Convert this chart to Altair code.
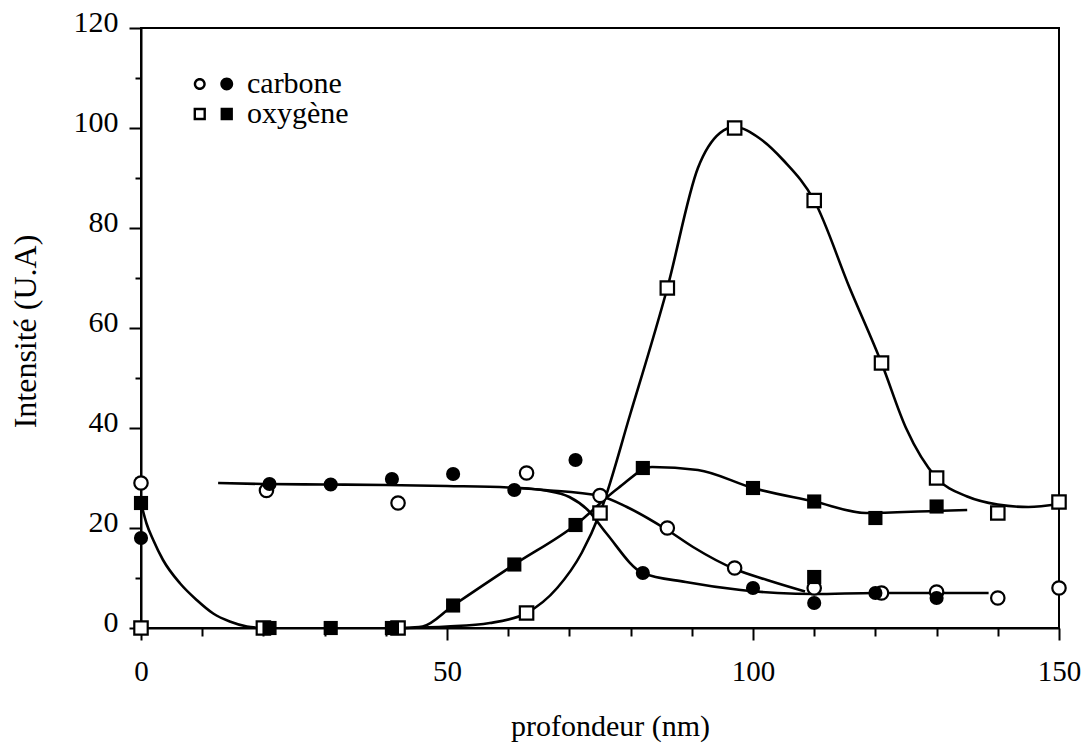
import altair as alt
import pandas as pd

# ---- measured points ----
c_open_x = [0, 20.5, 42, 63, 75, 86, 97, 110, 121, 130, 140, 150]
c_open_y = [29, 27.5, 25, 31, 26.5, 20, 12, 8, 7, 7.2, 6, 8]
c_fill_x = [0, 21, 31, 41, 51, 61, 71, 82, 100, 110, 120, 130]
c_fill_y = [18, 28.8, 28.7, 29.8, 30.8, 27.6, 33.6, 11, 8, 5, 7, 6]
o_open_x = [0, 20, 42, 63, 75, 86, 97, 110, 121, 130, 140, 150]
o_open_y = [0, 0, 0, 3, 23, 68, 100, 85.5, 53, 30, 23, 25.2]
o_fill_x = [0, 21, 31, 41, 51, 61, 71, 82, 100, 110, 110, 120, 130]
o_fill_y = [25, 0, 0, 0, 4.5, 12.7, 20.6, 32, 28, 25.3, 10.2, 22, 24.3]

# ---- hand-drawn curves ----
curve_surface_x = [0.2, 0.9, 2, 3.6, 6.4, 9.1, 11.8, 14.5, 17.3, 19.5]
curve_surface_y = [24, 20.9, 17.6, 13.6, 8.9, 5.6, 2.9, 1.3, 0.3, 0]
curve_ofill_x = [43, 46, 51, 61, 71, 78, 83.5, 91, 100, 110, 118.5, 129.5, 135]
curve_ofill_y = [0, 0.3, 4.5, 12.7, 20.6, 28, 32.2, 31.6, 28, 25.3, 23, 23.4, 23.6]
curve_oopen_x = [43, 50, 57, 63, 68, 72, 75, 80, 86, 91, 94.6, 97, 101, 105, 110, 115.8, 121, 125, 130, 135, 140, 145, 150]
curve_oopen_y = [0, 0.3, 1, 3, 8, 15, 23, 43, 68, 92, 99, 100.2, 98, 93.5, 85.5, 68, 53, 40, 30, 26.3, 24.7, 24.2, 24.8]
curve_copen_x = [12.6, 20, 30, 40, 50, 60, 66, 75, 79.4, 86, 90.2, 97, 102.3, 108.5]
curve_copen_y = [29, 28.8, 28.7, 28.6, 28.4, 28.1, 27.6, 26.4, 24.2, 19.6, 16.2, 11.8, 9.6, 7.3]
curve_cfill_x = [62, 66, 70, 73, 76, 82, 89, 98, 104, 110, 120, 130, 138.5]
curve_cfill_y = [28, 27.5, 26.2, 23.6, 19, 11, 9.2, 7.6, 7, 6.8, 7, 7, 7]

legend_labels = ["carbone", "oxygène"]
x_title = "profondeur (nm)"
y_title = "Intensité (U.A)"

FONT = "Liberation Serif"

# ---- legend symbol shapes (open + filled pair, as SVG paths) ----
def circle(cx, r, sweep):
    return (f"M{cx - r},0A{r},{r},0,1,{sweep},{cx + r},0"
            f"A{r},{r},0,1,{sweep},{cx - r},0Z")

def square_cw(cx, h):
    return f"M{cx - h},{-h}H{cx + h}V{h}H{cx - h}Z"

def square_ccw(cx, h):
    return f"M{cx - h},{-h}V{h}H{cx + h}V{-h}Z"

PAIR_CIRCLE = circle(-0.95, 0.40, 1) + circle(-0.95, 0.24, 0) + circle(0.85, 0.43, 1)
PAIR_SQUARE = square_cw(-0.95, 0.41) + square_ccw(-0.95, 0.25) + square_cw(0.85, 0.41)

def pts(xs, ys, element):
    return pd.DataFrame({"x": xs, "y": ys, "element": element})

open_df = pd.concat([pts(c_open_x, c_open_y, legend_labels[0]),
                     pts(o_open_x, o_open_y, legend_labels[1])])
fill_df = pd.concat([pts(c_fill_x, c_fill_y, legend_labels[0]),
                     pts(o_fill_x, o_fill_y, legend_labels[1])])

curves = []
for name, xs, ys in [("surface", curve_surface_x, curve_surface_y),
                     ("ofill", curve_ofill_x, curve_ofill_y),
                     ("oopen", curve_oopen_x, curve_oopen_y),
                     ("copen", curve_copen_x, curve_copen_y),
                     ("cfill", curve_cfill_x, curve_cfill_y)]:
    curves.append(pd.DataFrame({"x": xs, "y": ys, "curve": name}))
curve_df = pd.concat(curves)

xscale = alt.Scale(domain=[0, 150], nice=False, zero=False)
yscale = alt.Scale(domain=[0, 120], nice=False)

xaxis = alt.Axis(
    values=list(range(0, 151, 10)),
    labelExpr="datum.value % 50 == 0 ? datum.label : ''",
    tickSize={"condition": {"test": "datum.value % 50 == 0", "value": 12}, "value": 8},
    labelPadding=17, labelFont=FONT, labelFontSize=29, labelColor="black",
    labelFlush=False, labelOverlap=False,
    title=x_title, titleFont=FONT, titleFontSize=30, titleFontWeight="normal",
    titleColor="black", titleX=469, titleY=107, titleBaseline="alphabetic",
    titleAlign="center", grid=False, domainColor="black", domainWidth=2,
    tickColor="black", tickWidth=2,
)
yaxis = alt.Axis(
    values=list(range(0, 121, 10)),
    labelExpr="datum.value % 20 == 0 ? datum.label : ''",
    tickSize={"condition": {"test": "datum.value % 20 == 0", "value": 12}, "value": 6},
    labelPadding=11, labelFont=FONT, labelFontSize=30, labelColor="black",
    labelBaseline="alphabetic", labelOffset=3, labelFlush=False, labelOverlap=False,
    title=y_title, titleFont=FONT, titleFontSize=32, titleFontWeight="normal",
    titleColor="black", titleX=-106, titleY=303, titleBaseline="alphabetic",
    titleAlign="center", titleAngle=270, grid=False, domainColor="black",
    domainWidth=2, tickColor="black", tickWidth=2,
)

shape_scale = alt.Scale(domain=legend_labels, range=["circle", "square"])

lines = alt.Chart(curve_df).mark_line(
    interpolate="monotone", color="black", strokeWidth=2.6
).encode(
    x=alt.X("x:Q", scale=xscale, axis=xaxis),
    y=alt.Y("y:Q", scale=yscale, axis=yaxis),
    detail="curve:N",
)

open_pts = alt.Chart(open_df).mark_point(
    filled=True, fill="white", stroke="black", strokeWidth=2.2, size=180, opacity=1
).encode(
    x="x:Q", y="y:Q",
    shape=alt.Shape("element:N", scale=shape_scale, legend=None),
)

fill_pts = alt.Chart(fill_df).mark_point(
    filled=True, color="black", size=200, opacity=1
).encode(
    x="x:Q", y="y:Q",
    shape=alt.Shape("element:N", scale=shape_scale, legend=None),
)

legend_layer = alt.Chart(fill_df).mark_point(
    filled=True, color="black", size=0, opacity=1
).encode(
    x="x:Q", y="y:Q",
    shape=alt.Shape("element:N",
        scale=alt.Scale(domain=legend_labels, range=[PAIR_CIRCLE, PAIR_SQUARE]),
        legend=alt.Legend(
            orient="none", legendX=58, legendY=41, title=None,
            symbolSize=900, symbolFillColor="black", symbolStrokeWidth=0,
            symbolOpacity=1, rowPadding=0, labelFontSize=30, labelFont=FONT,
            labelColor="black", labelOffset=18, padding=0)),
)

chart = alt.layer(lines, open_pts, fill_pts, legend_layer).resolve_scale(
    shape="independent"
).resolve_legend(shape="independent").properties(
    width=918, height=600,
    autosize=alt.AutoSizeParams(type="none"),
    padding={"left": 133, "top": 20, "right": 22, "bottom": 117},
    background="white",
).configure_view(stroke="black", strokeWidth=2)

chart.save("out.html", embed_options={"renderer": "svg", "actions": False})
